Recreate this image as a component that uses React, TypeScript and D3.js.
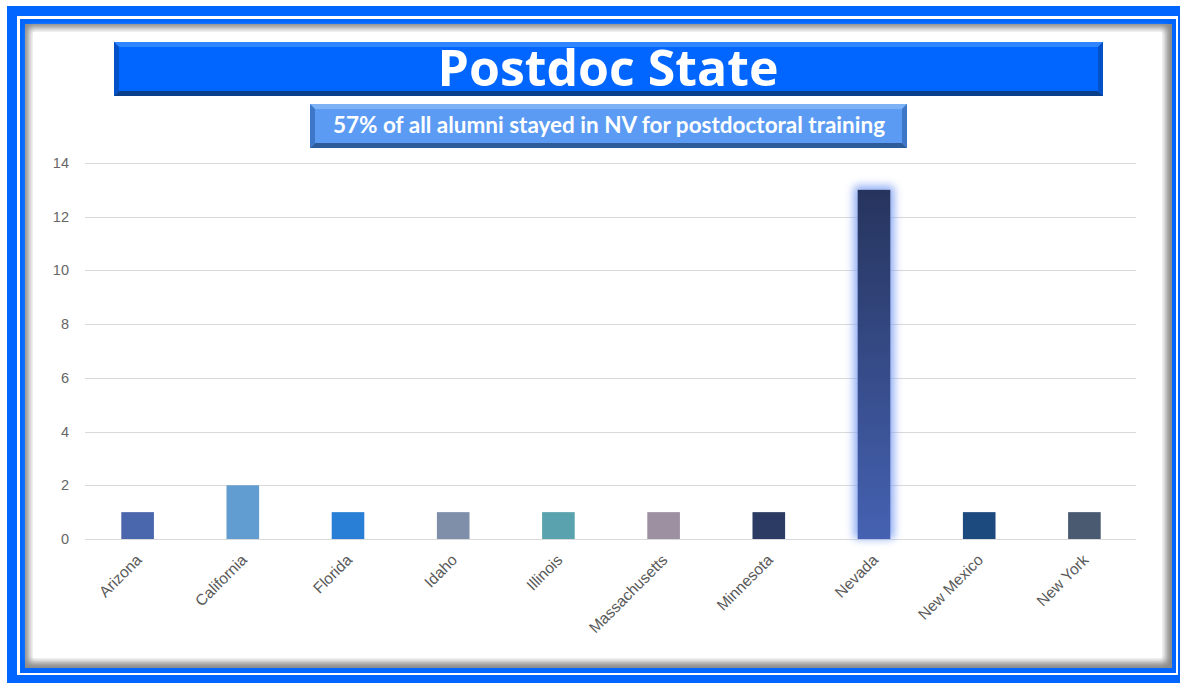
import { useRef, useEffect } from 'react';
import * as d3 from 'd3';

const states = [
  'Arizona',
  'California',
  'Florida',
  'Idaho',
  'Illinois',
  'Massachusetts',
  'Minnesota',
  'Nevada',
  'New Mexico',
  'New York',
];
const counts = [1, 2, 1, 1, 1, 1, 1, 13, 1, 1];
const barColors = [
  '#4a66ac',
  '#629dd1',
  '#297fd5',
  '#7f8fa9',
  '#5aa2ae',
  '#9d90a0',
  '#2c3b63',
  'url(#nevadaGrad)',
  '#1c4a7e',
  '#4a5a70',
];
const yTicks = [0, 2, 4, 6, 8, 10, 12, 14];
const title = 'Postdoc State';
const subtitle = '57% of all alumni stayed in NV for postdoctoral training';

const W = 1180;
const H = 683;

function App() {
  const ref = useRef<SVGSVGElement | null>(null);

  useEffect(() => {
    const svg = d3.select(ref.current);
    svg.selectAll('*').remove();

    const defs = svg.append('defs');
    const grad = defs
      .append('linearGradient')
      .attr('id', 'nevadaGrad')
      .attr('x1', 0)
      .attr('y1', 0)
      .attr('x2', 0)
      .attr('y2', 1);
    grad.append('stop').attr('offset', '0%').attr('stop-color', '#26345d');
    grad.append('stop').attr('offset', '100%').attr('stop-color', '#4562b2');

    const glow = defs
      .append('filter')
      .attr('id', 'glow')
      .attr('x', '-50%')
      .attr('y', '-10%')
      .attr('width', '200%')
      .attr('height', '120%');
    glow.append('feGaussianBlur').attr('stdDeviation', 4);

    const inset = defs.append('filter').attr('id', 'inset');
    inset.append('feGaussianBlur').attr('stdDeviation', 3);

    // Frame
    svg.append('rect').attr('width', W).attr('height', H).attr('fill', '#ffffff');
    svg
      .append('rect')
      .attr('x', 7)
      .attr('y', 6)
      .attr('width', W - 7)
      .attr('height', H - 6)
      .attr('fill', '#0066ff');
    svg
      .append('rect')
      .attr('x', 17)
      .attr('y', 16)
      .attr('width', 1178 - 17)
      .attr('height', 675 - 16)
      .attr('fill', '#ffffff');
    svg
      .append('rect')
      .attr('x', 20)
      .attr('y', 19)
      .attr('width', 1176 - 20)
      .attr('height', 673 - 19)
      .attr('fill', '#0066ff');
    // inner gray shadow
    svg
      .append('rect')
      .attr('x', 25)
      .attr('y', 24)
      .attr('width', 1172 - 25)
      .attr('height', 668 - 24)
      .attr('fill', '#8a8a8a');
    svg
      .append('rect')
      .attr('x', 29)
      .attr('y', 28)
      .attr('width', 1166 - 29)
      .attr('height', 662 - 28)
      .attr('fill', '#ffffff')
      .attr('filter', 'url(#inset)');
    svg
      .append('rect')
      .attr('x', 33)
      .attr('y', 32)
      .attr('width', 1162 - 33)
      .attr('height', 658 - 32)
      .attr('fill', '#ffffff');

    // Bevelled box helper
    const bevelBox = (
      x0: number,
      y0: number,
      x1: number,
      y1: number,
      b: number,
      fill: string,
      light: string,
      dark: string,
      side: string
    ) => {
      const g = svg.append('g');
      g.append('rect')
        .attr('x', x0)
        .attr('y', y0)
        .attr('width', x1 - x0)
        .attr('height', y1 - y0)
        .attr('fill', fill);
      g.append('polygon')
        .attr('points', `${x0},${y0} ${x1},${y0} ${x1 - b},${y0 + b} ${x0 + b},${y0 + b}`)
        .attr('fill', light);
      g.append('polygon')
        .attr('points', `${x0},${y1} ${x1},${y1} ${x1 - b},${y1 - b} ${x0 + b},${y1 - b}`)
        .attr('fill', dark);
      g.append('polygon')
        .attr('points', `${x1},${y0} ${x1},${y1} ${x1 - b},${y1 - b} ${x1 - b},${y0 + b}`)
        .attr('fill', side);
      g.append('polygon')
        .attr('points', `${x0},${y0} ${x0},${y1} ${x0 + b},${y1 - b} ${x0 + b},${y0 + b}`)
        .attr('fill', side);
      return g;
    };

    bevelBox(114, 42, 1103, 96, 5, '#0066ff', '#2f86ff', '#0a3f8c', '#0450c6');
    svg
      .append('text')
      .attr('x', 608)
      .attr('y', 86)
      .attr('text-anchor', 'middle')
      .attr('fill', '#ffffff')
      .style('font-family', '"Open Sans", sans-serif')
      .style('font-weight', 700)
      .style('font-size', '50px')
      .text(title);

    bevelBox(310, 104, 907, 148, 5, '#5b9bf3', '#7db2f7', '#2e5b9a', '#3f77c8');
    svg
      .append('text')
      .attr('x', 609)
      .attr('y', 133)
      .attr('text-anchor', 'middle')
      .attr('fill', '#ffffff')
      .style('font-family', 'Lato, sans-serif')
      .style('font-weight', 700)
      .style('font-size', '22.5px')
      .text(subtitle);

    // Chart
    const left = 85;
    const right = 1137;
    const top = 163;
    const bottom = 539;

    const x = d3
      .scaleBand<string>()
      .domain(states)
      .range([left, right])
      .paddingInner(0.69)
      .paddingOuter(0.345);

    const y = d3.scaleLinear().domain([0, 14]).range([bottom, top]);

    const grid = svg.append('g');
    yTicks.forEach(t => {
      grid
        .append('line')
        .attr('x1', left)
        .attr('x2', 1136)
        .attr('y1', Math.round(y(t)) + 0.5)
        .attr('y2', Math.round(y(t)) + 0.5)
        .attr('stroke', '#d9d9d9')
        .attr('stroke-width', 1);
      grid
        .append('text')
        .attr('x', 69)
        .attr('y', y(t) + 5)
        .attr('text-anchor', 'end')
        .attr('fill', '#666666')
        .style('font-family', '"Liberation Sans", Arial, sans-serif')
        .style('font-size', '14.5px')
        .text(t);
    });

    const bars = svg.append('g');
    states.forEach((s, i) => {
      const bx = x(s)!;
      const by = y(counts[i]);
      const bh = bottom - by;
      if (s === 'Nevada') {
        bars
          .append('rect')
          .attr('x', bx - 4)
          .attr('y', by - 4)
          .attr('width', x.bandwidth() + 8)
          .attr('height', bh + 4)
          .attr('rx', 4)
          .attr('fill', '#7d9ff2')
          .attr('opacity', 0.85)
          .attr('filter', 'url(#glow)');
      }
      bars
        .append('rect')
        .attr('x', bx)
        .attr('y', by)
        .attr('width', x.bandwidth())
        .attr('height', bh)
        .attr('fill', barColors[i]);
    });

    const labels = svg.append('g');
    states.forEach(s => {
      const cx = x(s)! + x.bandwidth() / 2 + 5;
      labels
        .append('text')
        .attr('transform', `translate(${cx},${561}) rotate(-45)`)
        .attr('text-anchor', 'end')
        .attr('fill', '#595959')
        .style('font-family', '"Liberation Sans", Arial, sans-serif')
        .style('font-size', '15.5px')
        .text(s);
    });
  }, []);

  return (
    <svg
      ref={ref}
      width={W}
      height={H}
      style={{ position: 'absolute', left: 0, top: 0 }}
    ></svg>
  );
}

export default App;
